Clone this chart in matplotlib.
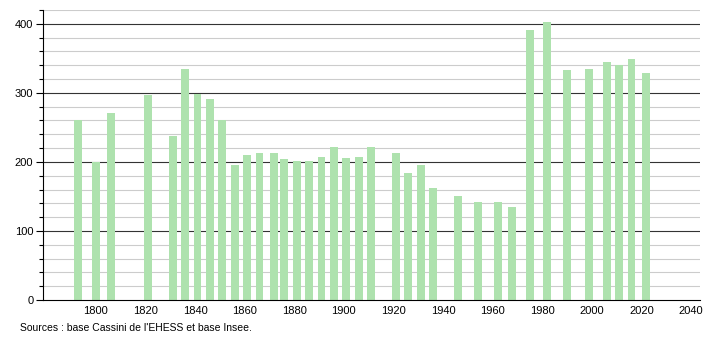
import matplotlib
matplotlib.use("Agg")
import matplotlib.pyplot as plt
from matplotlib.ticker import MultipleLocator

years = [1793, 1800, 1806, 1821, 1831, 1836, 1841, 1846, 1851, 1856,
         1861, 1866, 1872, 1876, 1881, 1886, 1891, 1896, 1901, 1906,
         1911, 1921, 1926, 1931, 1936, 1946, 1954, 1962, 1968, 1975,
         1982, 1990, 1999, 2006, 2011, 2016, 2022]
population = [261, 200, 271, 297, 238, 334, 299, 291, 261, 195,
              210, 213, 213, 204, 201, 201, 207, 221, 205, 207,
              222, 213, 184, 196, 162, 151, 142, 142, 135, 391,
              402, 333, 334, 345, 341, 349, 329]
xticks = [1800, 1820, 1840, 1860, 1880, 1900, 1920, 1940, 1960, 1980, 2000, 2020, 2040]
source = "Sources : base Cassini de l'EHESS et base Insee."

plt.rcParams['font.family'] = ['Liberation Sans', 'DejaVu Sans']

fig = plt.figure(figsize=(7.1, 3.4), dpi=100)
ax = fig.add_axes([43/710, 40/340, 657/710, 290/340])

ax.set_ylim(0, 420)
ax.set_xlim(1778.7, 1778.7 + 657/2.48)

for y in range(20, 421, 20):
    if y % 100 == 0:
        ax.axhline(y, color='#333333', lw=0.8, zorder=1)
    else:
        ax.axhline(y, color='#cccccc', lw=0.8, zorder=1)

ax.bar(years, population, width=3.2, color='#aee2ae', zorder=2)

ax.set_xticks(xticks)
ax.set_xticklabels([str(t) for t in xticks], fontsize=8)
ax.tick_params(axis='x', length=0, pad=4)
ax.yaxis.set_major_locator(MultipleLocator(100))
ax.yaxis.set_minor_locator(MultipleLocator(20))
ax.tick_params(axis='y', which='major', length=5, width=0.8, labelsize=8, pad=2)
ax.tick_params(axis='y', which='minor', length=3, width=0.8)

for s in ['top', 'right']:
    ax.spines[s].set_visible(False)
ax.spines['left'].set_linewidth(0.8)
ax.spines['bottom'].set_linewidth(0.8)

fig.text(20/710, 1 - 328/340, source, fontsize=7.5, va='center', ha='left')

fig.savefig("out.png", dpi=100)
